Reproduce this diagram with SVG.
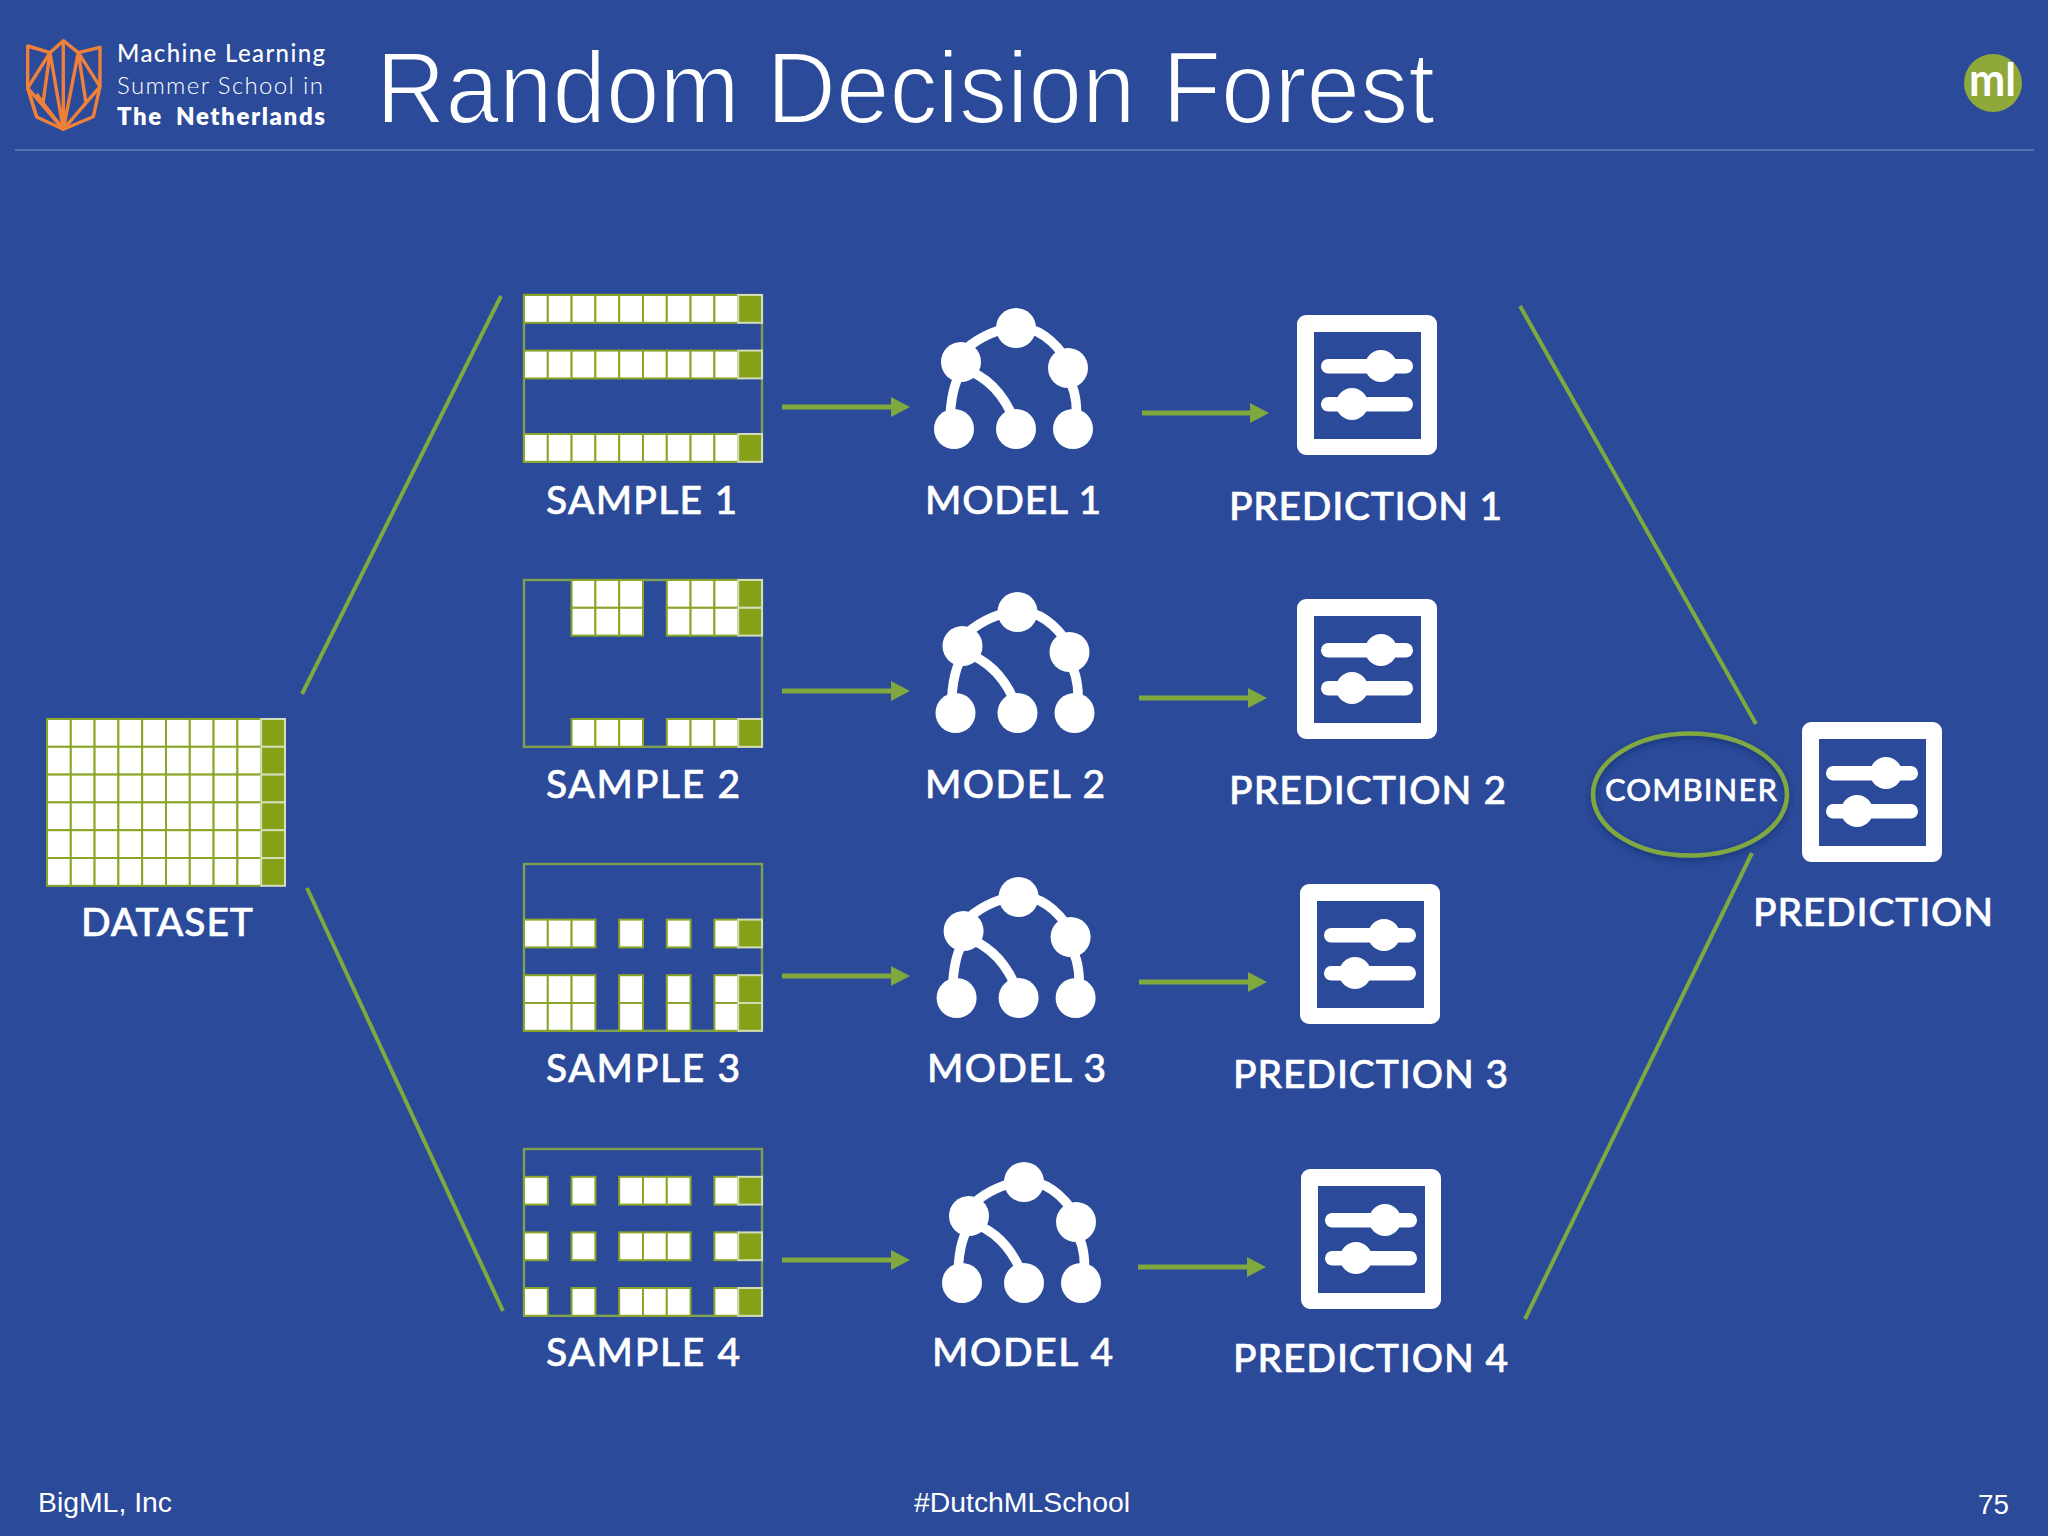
<svg xmlns="http://www.w3.org/2000/svg" width="2048" height="1536" viewBox="0 0 2048 1536">
<defs>
<style>
text{fill:#fff}
.lb{font-family:"Lato","Noto Sans",sans-serif;font-weight:500;font-size:39px;stroke:#fff;stroke-width:.6px}
.ft{font-family:"Liberation Sans",Arial,sans-serif;font-size:27px}
.w{fill:#fff;stroke:#8aa528;stroke-width:2}
.g{fill:#84a118;stroke:#d4ddb8;stroke-width:2}
.fr{fill:none;stroke:#7ea04f;stroke-width:2.400}
.c{fill:none;stroke:#7fa83f;stroke-width:4;stroke-linecap:butt}
.a{fill:none;stroke:#7fa83f;stroke-width:5;marker-end:url(#h)}
.tl{fill:none;stroke:#fff;stroke-width:9.500}
</style>
<marker id="h" markerUnits="userSpaceOnUse" viewBox="0 0 19 20" refX="0" refY="10" markerWidth="19" markerHeight="20" orient="auto"><path d="M0 0L19 10L0 20Z" fill="#7fa83f"/></marker>
<filter id="sh" x="-20%" y="-20%" width="140%" height="140%"><feDropShadow dx="0" dy="3" stdDeviation="3" flood-color="#14275e" flood-opacity=".6"/></filter>
<rect id="cw" class="w" width="23.800" height="27.800"/>
<rect id="cg" class="g" width="23.800" height="27.800"/>
<g id="r10"><use href="#cw"/><use href="#cw" x="23.800"/><use href="#cw" x="47.600"/><use href="#cw" x="71.400"/><use href="#cw" x="95.200"/><use href="#cw" x="119"/><use href="#cw" x="142.800"/><use href="#cw" x="166.600"/><use href="#cw" x="190.400"/><use href="#cg" x="214.200"/></g>
<g id="r2"><use href="#cw" x="47.600"/><use href="#cw" x="71.400"/><use href="#cw" x="95.200"/><use href="#cw" x="142.800"/><use href="#cw" x="166.600"/><use href="#cw" x="190.400"/><use href="#cg" x="214.200"/></g>
<g id="r3"><use href="#cw"/><use href="#cw" x="23.800"/><use href="#cw" x="47.600"/><use href="#cw" x="95.200"/><use href="#cw" x="142.800"/><use href="#cw" x="190.400"/><use href="#cg" x="214.200"/></g>
<g id="r4"><use href="#cw"/><use href="#cw" x="47.600"/><use href="#cw" x="95.200"/><use href="#cw" x="119"/><use href="#cw" x="142.800"/><use href="#cw" x="190.400"/><use href="#cg" x="214.200"/></g>
<g id="tree">
<path class="tl" d="M961 354Q980 333 1016 326M1016 326Q1047 328 1068 362M964 368Q950 385 950 425M962 368Q1000 380 1016 425M1066 375Q1079 392 1076 425"/>
<g fill="#fff"><circle cx="1016" cy="328" r="20"/><circle cx="961" cy="362" r="20"/><circle cx="1068" cy="368" r="20"/><circle cx="954" cy="429" r="20"/><circle cx="1016" cy="429" r="20"/><circle cx="1073" cy="429" r="20"/></g>
</g>
<g id="pred">
<path fill="#fff" fill-rule="evenodd" d="M9 0H131A9 9 0 0 1 140 9V131A9 9 0 0 1 131 140H9A9 9 0 0 1 0 131V9A9 9 0 0 1 9 0ZM17 17V124H124V17Z"/>
<g fill="#fff"><rect x="24" y="44" width="92" height="14.500" rx="7.200"/><circle cx="84" cy="51" r="16"/><rect x="24" y="82" width="92" height="14.500" rx="7.200"/><circle cx="55" cy="89" r="16"/></g>
</g>
</defs>
<rect id="background" width="2048" height="1536" fill="#2b4a99"/>
<g id="header">
<g id="logo" fill="none" stroke="#ee803a" stroke-width="3.400" stroke-linejoin="round">
<path d="M27.700 46L50 52.700L63.300 40.700L78.300 52.700L100 47.300V86.700L93.300 116.700L63.300 129.300L36.700 117L27.700 88Z"/>
<path d="M63.300 40.700V129.300M50 52.700L63.300 129.300M78.300 52.700L63.300 129.300M50 52.700L27.700 88L63.300 129.300M50 52.700L43 103L63.300 129.300M78.300 52.700L100 86.700L63.300 129.300M78.300 52.700L86 103L63.300 129.300M27.700 88L36.700 117M86 103L100 86.700M43 103L36.700 94"/>
</g>
<g font-family="Lato,'Noto Sans',sans-serif" font-size="24">
<text x="117" y="62" textLength="208" font-weight="500">Machine Learning</text>
<text x="117" y="94" textLength="206" font-weight="300">Summer School in</text>
<text x="117" y="125" textLength="208" font-weight="800" style="word-spacing:6px">The Netherlands</text>
</g>
<text id="title" x="376" y="123" textLength="1059" lengthAdjust="spacingAndGlyphs" font-family="'Liberation Sans',Arial,sans-serif" font-size="102" stroke="#2b4a99" stroke-width="2.200">Random Decision Forest</text>
<line x1="15" y1="150" x2="2034" y2="150" stroke="#5b80bb" stroke-width="1.500"/>
<g id="ml-badge"><circle cx="1993" cy="83" r="29" fill="#8fa83a"/><text x="1969" y="96" textLength="47" lengthAdjust="spacingAndGlyphs" font-family="Lato,sans-serif" font-weight="700" font-size="46">ml</text></g>
</g>
<g id="connectors">
<path class="c" d="M302 694L501 296M307 888L503 1311M1520 306L1756 724M1525 1319L1752 853"/>
<path class="a" d="M782 407H891"/><path class="a" d="M1142 413H1250"/>
<path class="a" d="M782 691H891"/><path class="a" d="M1139 698H1248"/>
<path class="a" d="M782 976H891"/><path class="a" d="M1139 982H1248"/>
<path class="a" d="M782 1260H891"/><path class="a" d="M1138 1267H1247"/>
</g>
<g id="dataset">
<use href="#r10" x="47" y="719"/><use href="#r10" x="47" y="746.800"/><use href="#r10" x="47" y="774.600"/><use href="#r10" x="47" y="802.400"/><use href="#r10" x="47" y="830.200"/><use href="#r10" x="47" y="858"/>
<text class="lb" x="81" y="936" textLength="172">DATASET</text>
</g>
<g id="sample-1"><rect class="fr" x="524" y="295" width="238" height="166.800"/>
<use href="#r10" x="524" y="295"/><use href="#r10" x="524" y="350.600"/><use href="#r10" x="524" y="434"/>
<text class="lb" x="546" y="514" textLength="191">SAMPLE 1</text></g>
<g id="sample-2"><rect class="fr" x="524" y="580" width="238" height="166.800"/>
<use href="#r2" x="524" y="580"/><use href="#r2" x="524" y="607.800"/><use href="#r2" x="524" y="719"/>
<text class="lb" x="546" y="798" textLength="194">SAMPLE 2</text></g>
<g id="sample-3"><rect class="fr" x="524" y="864" width="238" height="166.800"/>
<use href="#r3" x="524" y="919.600"/><use href="#r3" x="524" y="975.200"/><use href="#r3" x="524" y="1003"/>
<text class="lb" x="546" y="1082" textLength="194">SAMPLE 3</text></g>
<g id="sample-4"><rect class="fr" x="524" y="1149" width="238" height="166.800"/>
<use href="#r4" x="524" y="1176.800"/><use href="#r4" x="524" y="1232.400"/><use href="#r4" x="524" y="1288"/>
<text class="lb" x="546" y="1366" textLength="194">SAMPLE 4</text></g>
<g id="model-1"><use href="#tree"/><text class="lb" x="925" y="514" textLength="176">MODEL 1</text></g>
<g id="model-2"><use href="#tree" x="1.500" y="284"/><text class="lb" x="925" y="798" textLength="180">MODEL 2</text></g>
<g id="model-3"><use href="#tree" x="2.600" y="569"/><text class="lb" x="927" y="1082" textLength="179">MODEL 3</text></g>
<g id="model-4"><use href="#tree" x="8" y="854"/><text class="lb" x="932" y="1366" textLength="181">MODEL 4</text></g>
<g id="prediction-1"><use href="#pred" x="1297" y="315"/><text class="lb" x="1229" y="520" textLength="273">PREDICTION 1</text></g>
<g id="prediction-2"><use href="#pred" x="1297" y="599"/><text class="lb" x="1229" y="804" textLength="277">PREDICTION 2</text></g>
<g id="prediction-3"><use href="#pred" x="1300" y="884"/><text class="lb" x="1233" y="1088" textLength="275">PREDICTION 3</text></g>
<g id="prediction-4"><use href="#pred" x="1301" y="1169"/><text class="lb" x="1233" y="1372" textLength="275">PREDICTION 4</text></g>
<g id="combiner"><ellipse cx="1690" cy="794.500" rx="97" ry="61" fill="none" stroke="#7fa83f" stroke-width="4.500" filter="url(#sh)"/>
<text x="1605" y="801" textLength="172" font-family="Lato,'Noto Sans',sans-serif" font-weight="500" font-size="31" stroke="#fff" stroke-width=".5">COMBINER</text></g>
<g id="prediction"><use href="#pred" x="1802" y="722"/><text class="lb" x="1753" y="926" textLength="240">PREDICTION</text></g>
<g id="footer">
<text class="ft" x="38" y="1512" textLength="134" lengthAdjust="spacingAndGlyphs">BigML, Inc</text>
<text class="ft" x="914" y="1512" textLength="216" lengthAdjust="spacingAndGlyphs">#DutchMLSchool</text>
<text class="ft" x="1978" y="1514" textLength="31" lengthAdjust="spacingAndGlyphs">75</text>
</g>
</svg>
